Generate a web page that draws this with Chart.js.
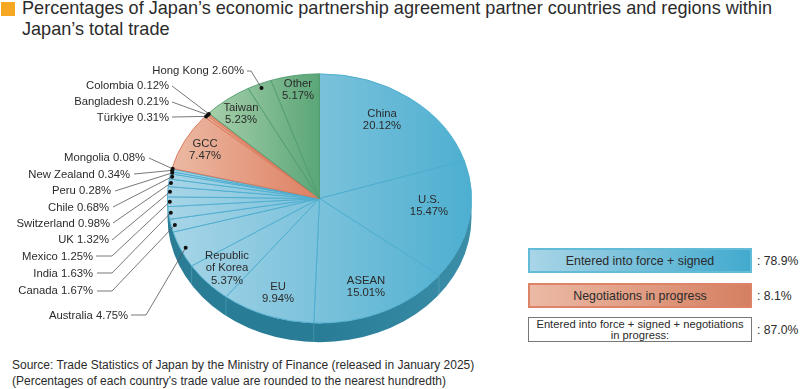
<!DOCTYPE html>
<html><head><meta charset="utf-8">
<script src="https://cdn.jsdelivr.net/npm/chart.js@4"></script>
<style>
html,body{margin:0;padding:0;background:#fff;width:800px;height:389px;overflow:hidden}
body{position:relative;font-family:"Liberation Sans",Arial,sans-serif;color:#2b2b2b}
canvas{position:absolute;left:0;top:0}
.t{position:absolute;white-space:nowrap}
#sq{position:absolute;left:1px;top:2px;width:14px;height:14px;background:#f7a823}
#title{left:22px;top:-2px;font-size:18.1px;line-height:21px}
#src{left:12px;top:357px;font-size:12px;line-height:16px}
.box{position:absolute;left:528px;width:224px;box-sizing:border-box;text-align:center;height:25px;line-height:22px;font-size:12.4px;border-style:solid;border-width:2px}
#b1{top:248px;border-color:#62bcd8;background:linear-gradient(90deg,#a9d5e7,#42aace)}
#b2{top:283px;border-color:#dd8468;background:linear-gradient(90deg,#ecbaa5,#d57f61)}
#b3{top:317px;border:1px solid #777;background:#fff;font-size:11.2px;line-height:11px;padding-top:1px}
.v{position:absolute;left:757px;font-size:12.2px;line-height:16px}
</style></head><body>
<div id="sq"></div>
<div id="title" class="t">Percentages of Japan’s economic partnership agreement partner countries and regions within<br>Japan’s total trade</div>
<div id="b1" class="box"></div><div id="b2" class="box"></div><div id="b3" class="box"></div>
<div id="v1" class="v" style="top:253px"></div><div id="v2" class="v" style="top:288px"></div><div id="v3" class="v" style="top:322px"></div>
<div id="src" class="t">Source: Trade Statistics of Japan by the Ministry of Finance (released in January 2025)<br>(Percentages of each country's trade value are rounded to the nearest hundredth)</div>
<canvas id="c" width="800" height="389"></canvas>
<script>
const categories=["China","U.S.","ASEAN","EU","Republic of Korea","Australia","Canada","India","Mexico","UK","Switzerland","Chile","Peru","New Zealand","Mongolia","GCC","Türkiye","Bangladesh","Colombia","Taiwan","Hong Kong","Other"];
const shares=[20.12,15.47,15.01,9.94,5.37,4.75,1.67,1.63,1.25,1.32,0.98,0.68,0.28,0.34,0.08,7.47,0.31,0.21,0.12,5.23,2.60,5.17];
const statusGroup=["in","in","in","in","in","in","in","in","in","in","in","in","in","in","in","neg","neg","neg","neg","none","none","none"];
const legendLabels={in:"Entered into force + signed",neg:"Negotiations in progress",both:"Entered into force + signed + negotiations<br>in progress:"};

const TILT=0.82, DEPTH=19, CY=198.5;
// label placement (pixel layout, separate from the data)
const inLabels={"China":[382,120],"U.S.":[429,206],"ASEAN":[366,287],"EU":[278,293],"Republic of Korea":[227,268,["Republic","of Korea"]],"GCC":[205,150],"Taiwan":[241,114],"Other":[298,90]};
const callouts={
 "Hong Kong":{x:244,y:71,path:[[247,71],[251,71]],r:.965},
 "Colombia":{x:169,y:86,path:[[172,86]],r:.995},
 "Bangladesh":{x:169,y:102,path:[[172,102]],r:.995},
 "Türkiye":{x:169,y:118,path:[[172,117]],r:.995},
 "Mongolia":{x:145,y:158,path:[[149,158]],r:.995},
 "New Zealand":{x:130,y:175,path:[[134,174]],r:.995},
 "Peru":{x:111,y:191,path:[[115,191]],r:.99},
 "Chile":{x:109,y:208,path:[[113,207]],r:.985},
 "Switzerland":{x:110,y:224,path:[[113,223]],r:.985},
 "UK":{x:109,y:240,path:[[112,240]],r:.985},
 "Mexico":{x:93,y:257,path:[[96,256],[112,256]],r:.985},
 "India":{x:93,y:274,path:[[97,273],[112,273]],r:.985},
 "Canada":{x:93,y:291,path:[[97,291],[112,291]],r:.975},
 "Australia":{x:128,y:316,path:[[131,315],[146,315]],r:.965}
};

const sum=g=>shares.reduce((s,v,i)=>statusGroup[i]===g?s+v:s,0);
document.getElementById('b1').textContent=legendLabels.in;
document.getElementById('b2').textContent=legendLabels.neg;
document.getElementById('b3').innerHTML=legendLabels.both;
document.getElementById('v1').textContent=': '+sum('in').toFixed(1)+'%';
document.getElementById('v2').textContent=': '+sum('neg').toFixed(1)+'%';
document.getElementById('v3').textContent=': '+(sum('in')+sum('neg')).toFixed(1)+'%';

const cvs=document.getElementById('c'),g2=cvs.getContext('2d');
function grad(x0,x1,a,b){const g=g2.createLinearGradient(x0,0,x1,0);g.addColorStop(0,a);g.addColorStop(1,b);return g;}
const fills={in:grad(167,472,'#a8d5e7','#4dafd0'),neg:grad(172,319,'#ecb9a3','#dd8062'),none:grad(200,319,'#acd3ae','#5ba678')};
const edges={in:'#4bacce',neg:'#d9775a',none:'#4f9c70'};

const tilt={id:'tilt',
 beforeDatasetsDraw(chart){
  const ctx=chart.ctx,arcs=chart.getDatasetMeta(0).data,a0=arcs[0],cx=a0.x,cy=a0.y,r=a0.outerRadius,ry=r*TILT;
  ctx.save();
  const rim=ctx.createLinearGradient(cx-r,0,cx+r,0);
  rim.addColorStop(0,'#2a7d95');rim.addColorStop(.5,'#287c96');rim.addColorStop(1,'#3c8ea8');
  ctx.fillStyle=rim;ctx.beginPath();
  ctx.ellipse(cx,CY,r,ry,0,Math.PI,0,true);
  ctx.ellipse(cx,CY+DEPTH,r,ry,0,0,Math.PI,false);
  ctx.closePath();ctx.fill();
  ctx.strokeStyle='rgba(120,185,205,.35)';ctx.lineWidth=1;
  arcs.forEach(a=>{const s=Math.sin(a.endAngle),c=Math.cos(a.endAngle);
   if(s>0.3){const x=cx+c*r,y=CY+s*ry;ctx.beginPath();ctx.moveTo(x,y);ctx.lineTo(x,y+DEPTH);ctx.stroke();}});
  ctx.restore();
  ctx.save();
  ctx.translate(0,CY);ctx.scale(1,TILT);ctx.translate(0,-cy);
 },
 afterDatasetsDraw(chart){
  const ctx=chart.ctx;ctx.restore();
  const arcs=chart.getDatasetMeta(0).data,a0=arcs[0],cx=a0.x,r=a0.outerRadius;
  ctx.save();
  ctx.fillStyle='#2b2b2b';ctx.font='11.3px "Liberation Sans",Arial,sans-serif';
  ctx.textBaseline='middle';
  ctx.textAlign='center';
  categories.forEach((n,i)=>{const p=inLabels[n];if(!p)return;
   const lines=(p[2]||[n]).concat(shares[i].toFixed(2)+'%');
   lines.forEach((t,k)=>ctx.fillText(t,p[0],p[1]+(k-(lines.length-1)/2)*12.6));});
  categories.forEach((n,i)=>{const c=callouts[n];if(!c)return;
   ctx.textAlign='right';ctx.fillStyle='#2b2b2b';
   ctx.fillText(n+' '+shares[i].toFixed(2)+'%',c.x,c.y);
   const a=arcs[i],m=(a.startAngle+a.endAngle)/2,
     dx=cx+Math.cos(m)*r*c.r,dy=CY+Math.sin(m)*r*TILT*c.r;
   ctx.strokeStyle='#555';ctx.lineWidth=.8;ctx.beginPath();
   c.path.forEach((q,k)=>k?ctx.lineTo(q[0],q[1]):ctx.moveTo(q[0],q[1]));
   ctx.lineTo(dx,dy);ctx.stroke();
   ctx.fillStyle='#111';ctx.beginPath();ctx.arc(dx,dy,2,0,Math.PI*2);ctx.fill();
  });
  ctx.restore();
 }};

new Chart(cvs,{type:'pie',
 data:{labels:categories,datasets:[{data:shares,
   backgroundColor:statusGroup.map(g=>fills[g]),
   borderColor:statusGroup.map(g=>edges[g]),
   borderWidth:1}]},
 options:{responsive:false,animation:false,events:[],
  layout:{padding:{left:167,right:328,top:47,bottom:37}},
  plugins:{legend:{display:false},tooltip:{enabled:false},title:{display:false}}},
 plugins:[tilt]});
</script>
</body></html>
